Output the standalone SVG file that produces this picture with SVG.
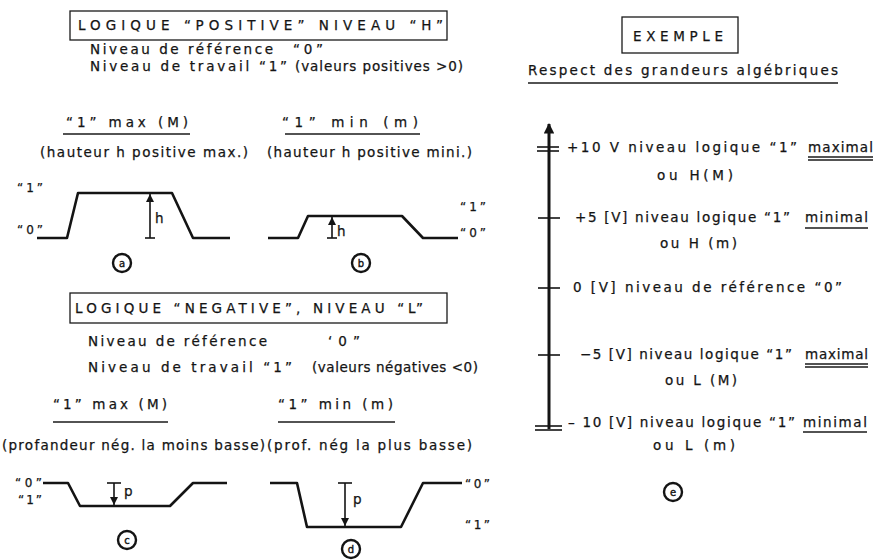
<svg xmlns="http://www.w3.org/2000/svg" width="880" height="560" viewBox="0 0 880 560">
<style>
text{font-family:"DejaVu Sans","Liberation Sans",sans-serif;font-size:13.5px;fill:#141414;stroke:#141414;stroke-width:0.25}
.sm{font-size:10px;stroke-width:0.4}
.lv{font-size:12px}
.box{fill:none;stroke:#1a1a1a;stroke-width:1.3}
.ul{stroke:#1a1a1a;stroke-width:1.3}
.wave{fill:none;stroke:#141414;stroke-width:2.6;stroke-linejoin:round}
.arr{stroke:#141414;stroke-width:1.6;fill:none}
.circ{fill:none;stroke:#141414;stroke-width:2.4}
.axis{stroke:#141414;stroke-width:3}
.tick{stroke:#141414;stroke-width:1.6}
</style>
<defs>
<marker id="ah" viewBox="0 0 10 10" refX="10" refY="5" markerWidth="5" markerHeight="6" orient="auto" markerUnits="strokeWidth">
<path d="M0,0 L10,5 L0,10 z" fill="#141414"/>
</marker>
<marker id="ahBig" viewBox="0 0 10 10" refX="9" refY="5" markerWidth="4" markerHeight="3.5" orient="auto" markerUnits="strokeWidth">
<path d="M0,0 L10,5 L0,10 z" fill="#141414"/>
</marker>
</defs>

<g id="positive-header">
<rect class="box" x="70" y="11" width="377" height="29"/>
<text x="78" y="30" textLength="365" lengthAdjust="spacing">LOGIQUE “POSITIVE” NIVEAU “H”</text>
<text x="90" y="54" textLength="183" lengthAdjust="spacing">Niveau de référence</text>
<text x="293" y="54" textLength="30" lengthAdjust="spacing">“0”</text>
<text x="90" y="71" textLength="197" lengthAdjust="spacing">Niveau de travail “1”</text>
<text x="295" y="71" textLength="168" lengthAdjust="spacing">(valeurs positives &gt;0)</text>
</g>

<g id="panel-a">
<text x="66" y="127" textLength="122" lengthAdjust="spacing">“1”  max  (M)</text>
<line class="ul" x1="63" y1="134" x2="190" y2="134"/>
<text x="40" y="157" textLength="208" lengthAdjust="spacing">(hauteur h positive max.)</text>
<text class="lv" x="17" y="192" textLength="26" lengthAdjust="spacing">“1”</text>
<text class="lv" x="17" y="234" textLength="26" lengthAdjust="spacing">“0”</text>
<polyline class="wave" points="37,238 67,238 78,193 172,193 193,238 230,238"/>
<text x="155" y="223">h</text>
<circle class="circ" cx="122" cy="263" r="9"/>
<text class="sm" x="122" y="266.5" text-anchor="middle">a</text>
</g>

<g id="panel-b">
<text x="282" y="127" textLength="136" lengthAdjust="spacing">“1”  min  (m)</text>
<line class="ul" x1="285" y1="134" x2="420" y2="134"/>
<text x="267" y="157" textLength="205" lengthAdjust="spacing">(hauteur h positive mini.)</text>
<polyline class="wave" points="268,238 298,238 308,216 402,216 423,238 458,238"/>
<text x="337" y="236">h</text>
<text class="lv" x="460" y="211" textLength="26" lengthAdjust="spacing">“1”</text>
<text class="lv" x="460" y="237" textLength="26" lengthAdjust="spacing">“0”</text>
<circle class="circ" cx="361" cy="263" r="9"/>
<text class="sm" x="361" y="266.5" text-anchor="middle">b</text>
</g>

<g id="negative-header">
<rect class="box" x="70" y="293" width="377" height="30"/>
<text x="75" y="313" textLength="348" lengthAdjust="spacing">LOGIQUE “NEGATIVE”, NIVEAU “L”</text>
<text x="88" y="346" textLength="179" lengthAdjust="spacing">Niveau de référence</text>
<text x="328" y="346" textLength="32" lengthAdjust="spacing">‘0”</text>
<text x="88" y="372" textLength="204" lengthAdjust="spacing">Niveau de travail “1”</text>
<text x="312" y="372" textLength="166" lengthAdjust="spacing">(valeurs négatives &lt;0)</text>
</g>

<g id="panel-c">
<text x="53" y="409" textLength="114" lengthAdjust="spacing">“1” max (M)</text>
<line class="ul" x1="53" y1="422" x2="168" y2="422"/>
<text x="2" y="450" textLength="263" lengthAdjust="spacing">(profandeur nég. la moins basse)</text>
<text class="lv" x="15" y="487" textLength="27" lengthAdjust="spacing">“0”</text>
<text class="lv" x="18" y="504" textLength="24" lengthAdjust="spacing">“1”</text>
<polyline class="wave" points="43,483 68,483 80,506 170,506 193,483 227,483"/>
<text x="124" y="496">p</text>
<circle class="circ" cx="127" cy="540" r="9"/>
<text class="sm" x="127" y="543.5" text-anchor="middle">c</text>
</g>

<g id="panel-d">
<text x="278" y="409" textLength="115" lengthAdjust="spacing">“1”  min  (m)</text>
<line class="ul" x1="278" y1="422" x2="395" y2="422"/>
<text x="267" y="450" textLength="205" lengthAdjust="spacing">(prof. nég  la plus basse)</text>
<polyline class="wave" points="270,483 297,483 307,527 401,527 423,483 462,483"/>
<text x="353" y="504">p</text>
<text class="lv" x="465" y="488" textLength="25" lengthAdjust="spacing">“0”</text>
<text class="lv" x="465" y="529" textLength="25" lengthAdjust="spacing">“1”</text>
<circle class="circ" cx="351" cy="549" r="9"/>
<text class="sm" x="351" y="552.5" text-anchor="middle">d</text>
</g>

<g id="connectors">
<line class="arr" x1="145" y1="238" x2="155" y2="238"/>
<line class="arr" x1="150" y1="238" x2="150" y2="194" marker-end="url(#ah)"/>
<line class="arr" x1="327" y1="238" x2="337" y2="238"/>
<line class="arr" x1="332" y1="238" x2="332" y2="217" marker-end="url(#ah)"/>
<line class="arr" x1="107" y1="483" x2="121" y2="483"/>
<line class="arr" x1="114" y1="483" x2="114" y2="505" marker-end="url(#ah)"/>
<line class="arr" x1="338" y1="483" x2="352" y2="483"/>
<line class="arr" x1="345" y1="483" x2="345" y2="526" marker-end="url(#ah)"/>
</g>

<g id="example-header">
<rect class="box" x="622" y="17" width="116" height="36"/>
<text x="633" y="41" textLength="90" lengthAdjust="spacing">EXEMPLE</text>
<text x="528" y="75" textLength="310" lengthAdjust="spacing">Respect des grandeurs algébriques</text>
<line class="ul" x1="528" y1="83" x2="838" y2="83"/>
</g>

<g id="axis">
<line class="axis" x1="549" y1="429" x2="549" y2="124" marker-end="url(#ahBig)"/>
<line class="tick" x1="537" y1="147" x2="559" y2="147"/>
<line class="tick" x1="537" y1="151" x2="559" y2="151"/>
<line class="tick" x1="538" y1="218" x2="560" y2="218"/>
<line class="tick" x1="538" y1="288" x2="560" y2="288"/>
<line class="tick" x1="538" y1="355" x2="560" y2="355"/>
<line class="tick" x1="535" y1="426" x2="562" y2="426"/>
<line class="tick" x1="535" y1="430" x2="562" y2="430"/>
</g>

<g id="level-plus10">
<text x="567" y="152" textLength="230" lengthAdjust="spacing">+10 V  niveau logique “1”</text>
<text x="808" y="152" textLength="65" lengthAdjust="spacing">maximal</text>
<line class="ul" x1="808" y1="157" x2="873" y2="157"/>
<line class="ul" x1="808" y1="160" x2="873" y2="160"/>
<text x="657" y="180" textLength="76" lengthAdjust="spacing">ou H(M)</text>
</g>

<g id="level-plus5">
<text x="575" y="222" textLength="215" lengthAdjust="spacing">+5 [V] niveau logique “1”</text>
<text x="805" y="222" textLength="63" lengthAdjust="spacing">minimal</text>
<line class="ul" x1="805" y1="228" x2="868" y2="228"/>
<text x="660" y="248" textLength="77" lengthAdjust="spacing">ou H (m)</text>
</g>

<g id="level-zero">
<text x="573" y="292" textLength="269" lengthAdjust="spacing">0  [V] niveau de référence “0”</text>
</g>

<g id="level-minus5">
<text x="580" y="359" textLength="212" lengthAdjust="spacing">−5 [V] niveau logique “1”</text>
<text x="805" y="359" textLength="63" lengthAdjust="spacing">maximal</text>
<line class="ul" x1="805" y1="364" x2="868" y2="364"/>
<line class="ul" x1="805" y1="367" x2="868" y2="367"/>
<text x="665" y="385" textLength="72" lengthAdjust="spacing">ou L (M)</text>
</g>

<g id="level-minus10">
<text x="568" y="427" textLength="227" lengthAdjust="spacing">– 10 [V] niveau logique “1”</text>
<text x="803" y="427" textLength="64" lengthAdjust="spacing">minimal</text>
<line class="ul" x1="803" y1="432" x2="867" y2="432"/>
<text x="653" y="450" textLength="82" lengthAdjust="spacing">ou  L (m)</text>
<circle class="circ" cx="673" cy="492" r="9"/>
<text class="sm" x="673" y="495.5" text-anchor="middle">e</text>
</g>
</svg>
